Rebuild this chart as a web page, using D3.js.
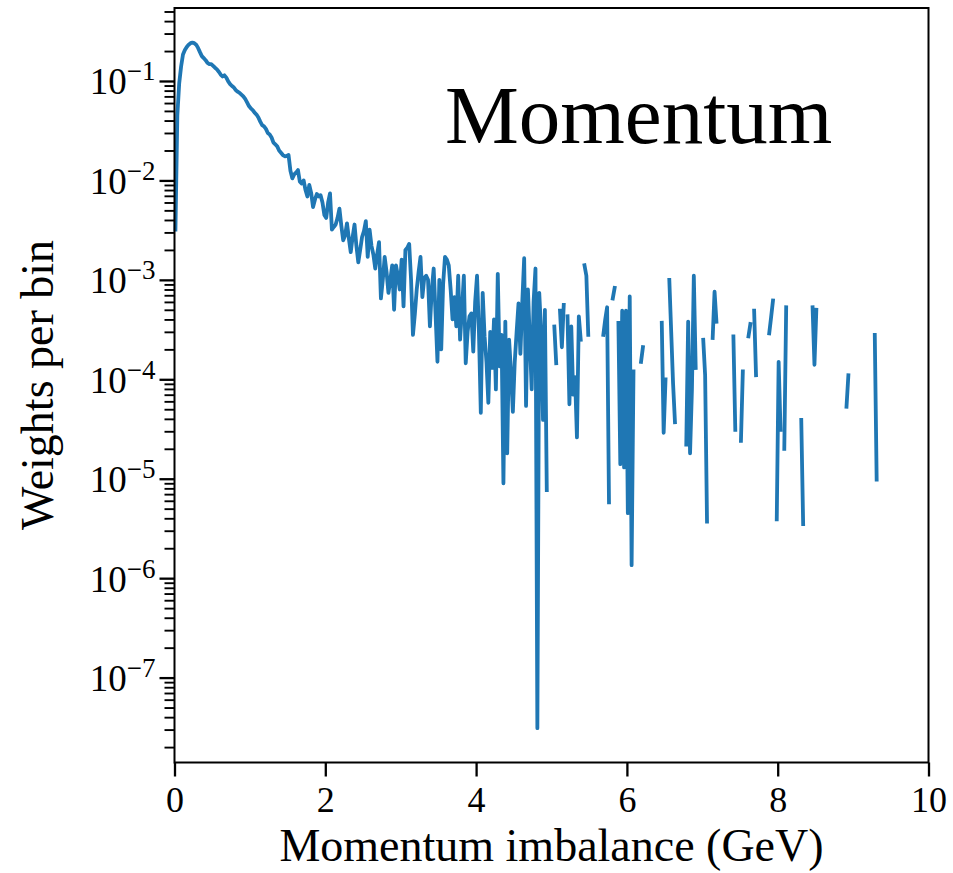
<!DOCTYPE html>
<html>
<head>
<meta charset="utf-8">
<title>Momentum imbalance</title>
<style>
  body { margin: 0; background: #fff; }
  svg text { font-family: "Liberation Serif", "Times New Roman", serif; fill: #000; }
  .axis line { stroke: #000; }
</style>
</head>
<body>
<script src="https://cdn.jsdelivr.net/npm/d3@7"></script>
<script>
// histogram bins of 0.025 GeV from 0 to 10 GeV, empty bins are 0
var binWidth = 0.025;
var weights = [
  3.2e-3, 0.045, 0.095, 0.14, 0.185, 0.205, 0.22, 0.232, 0.24, 0.243,
  0.24, 0.232, 0.215, 0.195, 0.178, 0.17, 0.162, 0.152, 0.148, 0.148,
  0.142, 0.136, 0.131, 0.124, 0.116, 0.111, 0.114, 0.108, 0.099, 0.093,
  0.089, 0.086, 0.081, 0.078, 0.076, 0.073, 0.070, 0.066, 0.061, 0.056,
  0.053, 0.051, 0.048, 0.046, 0.043, 0.039, 0.036, 0.035, 0.033, 0.030,
  0.029, 0.027, 0.024, 0.023, 0.022, 0.020, 0.019, 0.018, 0.0175, 0.0176,
  0.018, 0.0125, 0.0105, 0.0115, 0.012, 0.0127, 0.0097, 0.0093, 0.0100, 0.0080,
  0.0069, 0.0090, 0.0075, 0.0054, 0.0064, 0.0073, 0.0069, 0.0071, 0.0060, 0.0045,
  0.0042, 0.0060, 0.0074, 0.0032, 0.0034, 0.0036, 0.0042, 0.0052, 0.0035, 0.0025,
  0.0028, 0.0037, 0.0026, 0.0019, 0.0027, 0.0036, 0.0022, 0.0015, 0.0020, 0.0027,
  0.0031, 0.0039, 0.0017, 0.0032, 0.0022, 0.0018, 0.0013, 0.0018, 0.0024, 0.00065,
  0.0010, 0.0017, 0.0012, 0.00074, 0.0010, 0.0014, 0.0005, 0.0014, 0.0011, 0.0008,
  0.0016, 0.00054, 0.0020, 0.0021, 0.0023, 0.0010, 0.00028, 0.00045, 0.0008, 0.0012,
  0.0017, 0.00067, 0.00105, 0.0011, 0.0010, 0.00034, 0.0008, 0.0013, 0.00045, 0.00015,
  0.0010, 0.0002, 0.0009, 0.0017, 0.0016, 0.0014, 0.0008, 0.0004, 0.00067, 0.00034,
  0.0011, 0.00025, 0.0005, 0.0011, 0.000145, 0.0003, 0.00043, 0.00046, 0.00019, 0.0006,
  0.0011, 0.0003, 4.6e-5, 0.00074, 0.00027, 0.00015, 5.8e-5, 0.0003, 0.00013, 0.0004,
  7.9e-5, 0.00115, 0.000135, 0.00028, 9e-6, 0.00038, 1.8e-5, 0.00025, 0.00012, 4.7e-5,
  0.00015, 0.0003, 0.00058, 0.00018, 0.0006, 0.00165, 5.4e-5, 0.0008, 0.00025, 7.9e-5,
  0.0006, 0.0013, 3.1e-8, 0.00074, 0.0003, 3.9e-5, 0.0005, 7.7e-6, 0, 0,
  0, 3.4e-4, 1.45e-4, 0, 4.9e-4, 2.1e-4, 5.6e-4, 0, 4.3e-4, 5.6e-5,
  3.4e-4, 7e-5, 1.05e-4, 2.6e-5, 4.3e-4, 2.5e-4, 0, 1.4e-3, 1.1e-3, 2.8e-4,
  0, 0, 0, 0, 0, 0, 0, 2.8e-4, 4e-4, 5.3e-4,
  5.8e-6, 0, 6.5e-4, 8.3e-4, 0, 3.7e-4, 1.4e-5, 4.9e-4, 1.3e-5, 4.9e-4,
  4.5e-6, 6.8e-4, 1.35e-6, 1.2e-4, 0, 0, 0, 1.5e-4, 2.1e-4, 0,
  0, 0, 0, 0, 0, 0, 0, 0, 3.7e-4, 2.9e-5,
  1e-4, 0, 1e-3, 3e-4, 9e-5, 3.7e-5, 0, 0, 0, 0,
  0, 2.2e-5, 3.8e-4, 1.8e-5, 7.9e-5, 1.1e-3, 1.3e-4, 0, 0, 0,
  2.5e-4, 1.1e-4, 3.7e-6, 0, 0, 2.6e-4, 7.6e-4, 3.8e-4, 0, 0,
  0, 0, 0, 0, 0, 0, 2.7e-4, 3.1e-5, 0, 0,
  2.4e-5, 1.2e-4, 0, 0, 2.7e-4, 3.6e-4, 0, 4.9e-4, 1.1e-4, 0,
  0, 0, 0, 0, 0, 2.9e-4, 4.2e-4, 6.2e-4, 0, 3.9e-6,
  1.5e-4, 3.1e-5, 0, 2.0e-5, 5.3e-4, 0, 0, 0, 0, 0,
  0, 0, 3.9e-5, 3.5e-6, 0, 0, 0, 0, 5.3e-4, 1.4e-4,
  5e-4, 0, 0, 0, 0, 0, 0, 0, 0, 0,
  0, 0, 0, 0, 0, 0, 5.3e-5, 1.1e-4, 0, 0,
  0, 0, 0, 0, 0, 0, 0, 0, 0, 0,
  0, 2.8e-4, 9.8e-6, 0, 0, 0, 0, 0, 0, 0,
  0, 0, 0, 0, 0, 0, 0, 0, 0, 0,
  0, 0, 0, 0, 0, 0, 0, 0, 0, 0
];
var xTicks = [0, 2, 4, 6, 8, 10];
var yTicks = [1e-7, 1e-6, 1e-5, 1e-4, 1e-3, 1e-2, 1e-1];
var title = "Momentum";
var xLabel = "Momentum imbalance (GeV)";
var yLabel = "Weights per bin";

var margin = {top: 8, right: 24.5, bottom: 110.5, left: 174.5},
    width = 953 - margin.left - margin.right,
    height = 873 - margin.top - margin.bottom;

var x = d3.scaleLinear().domain([0, 10]).range([0, width]);
var y = d3.scaleLog().domain([1.4e-8, 0.542]).range([height, 0]);

var data = weights.map(function(w, i) {
    return {x: (i + 0.5) * binWidth, w: w};
});

var svg = d3.select("body").append("svg")
    .attr("width", 953)
    .attr("height", 873);

var g = svg.append("g")
    .attr("transform", "translate(" + margin.left + "," + margin.top + ")");

var line = d3.line()
    .defined(function(d) { return d.w > 0; })
    .x(function(d) { return x(d.x); })
    .y(function(d) { return y(d.w); });

g.append("path")
    .datum(data)
    .attr("d", line)
    .attr("fill", "none")
    .attr("stroke", "#1f77b4")
    .attr("stroke-width", 3.8)
    .attr("stroke-linejoin", "round")
    .attr("stroke-linecap", "square");

// x axis
var xAxis = g.append("g")
    .attr("class", "axis")
    .attr("transform", "translate(0," + height + ")")
    .call(d3.axisBottom(x).tickValues(xTicks).tickSize(14).tickSizeOuter(0).tickFormat(d3.format("d")));
xAxis.select(".domain").remove();
xAxis.selectAll(".tick line").attr("stroke-width", 2.3);
xAxis.selectAll(".tick text")
    .attr("y", 49)
    .attr("dy", 0)
    .attr("font-size", 36)
    .attr("font-family", null);

// y axis, minor ticks first
var minorTicks = [];
d3.range(-8, 0).forEach(function(e) {
    d3.range(2, 10).forEach(function(k) {
        var v = k * Math.pow(10, e);
        if (v >= y.domain()[0] && v <= y.domain()[1]) minorTicks.push(v);
    });
});

var yMinor = g.append("g")
    .attr("class", "axis")
    .call(d3.axisLeft(y).tickValues(minorTicks).tickSize(10).tickSizeOuter(0).tickFormat(""));
yMinor.select(".domain").remove();
yMinor.selectAll(".tick line").attr("stroke-width", 1.9);

var yAxis = g.append("g")
    .attr("class", "axis")
    .call(d3.axisLeft(y).tickValues(yTicks).tickSize(15).tickSizeOuter(0).tickFormat(""));
yAxis.select(".domain").remove();
yAxis.selectAll(".tick line").attr("stroke-width", 2.3);
yAxis.selectAll(".tick text")
    .attr("x", -19)
    .attr("y", 13)
    .attr("dy", 0)
    .attr("font-family", null)
    .attr("font-size", 37)
    .each(function(d) {
        var t = d3.select(this);
        t.append("tspan").text("10");
        t.append("tspan")
            .attr("dy", -14)
            .attr("font-size", 27)
            .text("\u2212" + Math.round(-Math.log10(d)));
    });

// frame
g.append("rect")
    .attr("width", width)
    .attr("height", height)
    .attr("fill", "none")
    .attr("stroke", "#000")
    .attr("stroke-width", 2);

// labels
g.append("text")
    .attr("x", width / 2)
    .attr("y", 853)
    .attr("text-anchor", "middle")
    .attr("font-size", 46)
    .text(xLabel);

svg.append("text")
    .attr("transform", "translate(53,385) rotate(-90)")
    .attr("text-anchor", "middle")
    .attr("font-size", 46)
    .text(yLabel);

svg.append("text")
    .attr("x", 445)
    .attr("y", 143)
    .attr("font-size", 83)
    .text(title);
</script>
</body>
</html>
